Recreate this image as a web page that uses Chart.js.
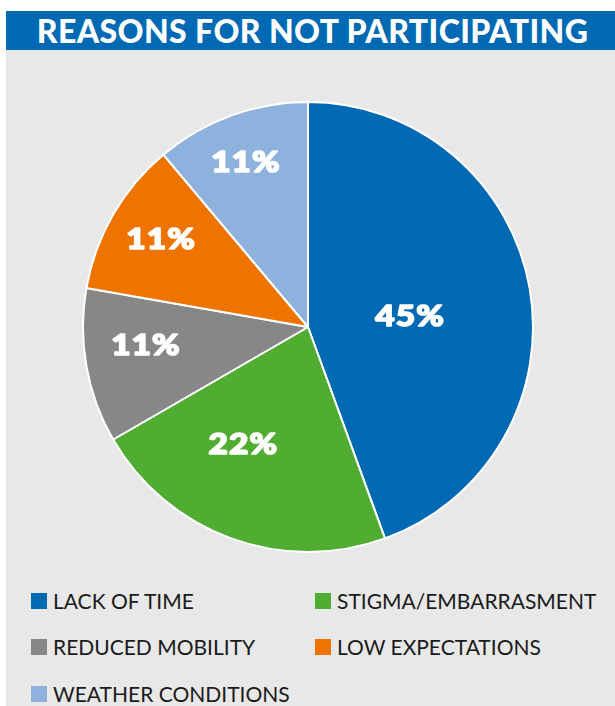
<!DOCTYPE html>
<html>
<head>
<meta charset="utf-8">
<script src="https://cdn.jsdelivr.net/npm/chart.js@4/dist/chart.umd.min.js"></script>
<style>
  html, body { margin: 0; padding: 0; background: #ffffff; }
  body { width: 615px; height: 706px; position: relative; overflow: hidden; font-family: Lato, "Open Sans", sans-serif; }
  #panel { position: absolute; left: 6px; top: 50px; width: 609px; height: 656px; background: #e8e8e8; }
  #title { position: absolute; left: 6px; top: 11px; width: 609px; height: 39px; background: #0069b4;
           color: #fff; font-family: Lato, sans-serif; font-weight: 900; font-size: 32px; line-height: 40px;
           text-align: center; letter-spacing: 0.4px; padding-left: 4px; box-sizing: border-box; }
  #wrap { position: absolute; left: 82px; top: 101px; width: 452px; height: 452px; }
  #legend { position: absolute; left: 31px; top: 588px; width: 584px; }
  .item { position: absolute; display: flex; align-items: center; font-size: 21px; color: #1a1a1a; white-space: nowrap; }
  .sw { width: 16px; height: 16px; margin-right: 6px; }
</style>
</head>
<body>
<div id="panel"></div>
<div id="title">REASONS FOR NOT PARTICIPATING</div>
<div id="wrap"><canvas id="c" width="452" height="452"></canvas></div>
<div id="legend"></div>
<script>
const categories = ["LACK OF TIME", "STIGMA/EMBARRASMENT", "REDUCED MOBILITY", "LOW EXPECTATIONS", "WEATHER CONDITIONS"];
const values = [44.4, 22.2, 11.1, 11.1, 11.1];
const valueLabels = ["45%", "22%", "11%", "11%", "11%"];
const colors = ["#0069b4", "#50ad32", "#878787", "#ef7300", "#8eb1de"];

// label placement: fraction of radius and angular shift (deg) from slice middle
const labelFrac = [0.454, 0.593, 0.727, 0.764, 0.787];
const labelShift = [3.8, 9.2, 3.7, 1.0, -0.7];

const labelPlugin = {
  id: 'sliceLabels',
  afterDatasetsDraw(chart) {
    const ctx = chart.ctx;
    const meta = chart.getDatasetMeta(0);
    ctx.save();
    ctx.fillStyle = '#ffffff';
    ctx.strokeStyle = '#ffffff';
    ctx.lineWidth = 1.6;
    ctx.lineJoin = 'round';
    ctx.font = '900 29px Lato, sans-serif';
    ctx.textAlign = 'center';
    ctx.textBaseline = 'middle';
    if ('letterSpacing' in ctx) ctx.letterSpacing = '1px';
    meta.data.forEach((arc, i) => {
      const p = arc.getProps(['x', 'y', 'startAngle', 'endAngle', 'outerRadius'], true);
      const mid = (p.startAngle + p.endAngle) / 2 + labelShift[i] * Math.PI / 180;
      const r = p.outerRadius * labelFrac[i];
      const lx = p.x + Math.cos(mid) * r;
      const ly = p.y + Math.sin(mid) * r;
      ctx.save();
      ctx.translate(lx, ly + 1);
      ctx.scale(1.15, 1);
      ctx.fillText(valueLabels[i], 0.5, 0);
      ctx.strokeText(valueLabels[i], 0.5, 0);
      ctx.restore();
    });
    ctx.restore();
  }
};

new Chart(document.getElementById('c'), {
  type: 'pie',
  data: {
    labels: categories,
    datasets: [{ data: values, backgroundColor: colors, borderColor: '#ffffff', borderWidth: 2 }]
  },
  options: {
    responsive: false,
    animation: false,
    layout: { padding: 0 },
    plugins: { legend: { display: false }, tooltip: { enabled: false } }
  },
  plugins: [labelPlugin]
});

// HTML legend in two columns
const legend = document.getElementById('legend');
const rowTops = [0, 46, 93];
categories.forEach((name, i) => {
  const d = document.createElement('div');
  d.className = 'item';
  d.style.left = (i % 2 === 0 ? 0 : 284) + 'px';
  d.style.top = rowTops[Math.floor(i / 2)] + 'px';
  d.innerHTML = '<span class="sw" style="background:' + colors[i] + '"></span><span>' + name + '</span>';
  legend.appendChild(d);
});
</script>
</body>
</html>
